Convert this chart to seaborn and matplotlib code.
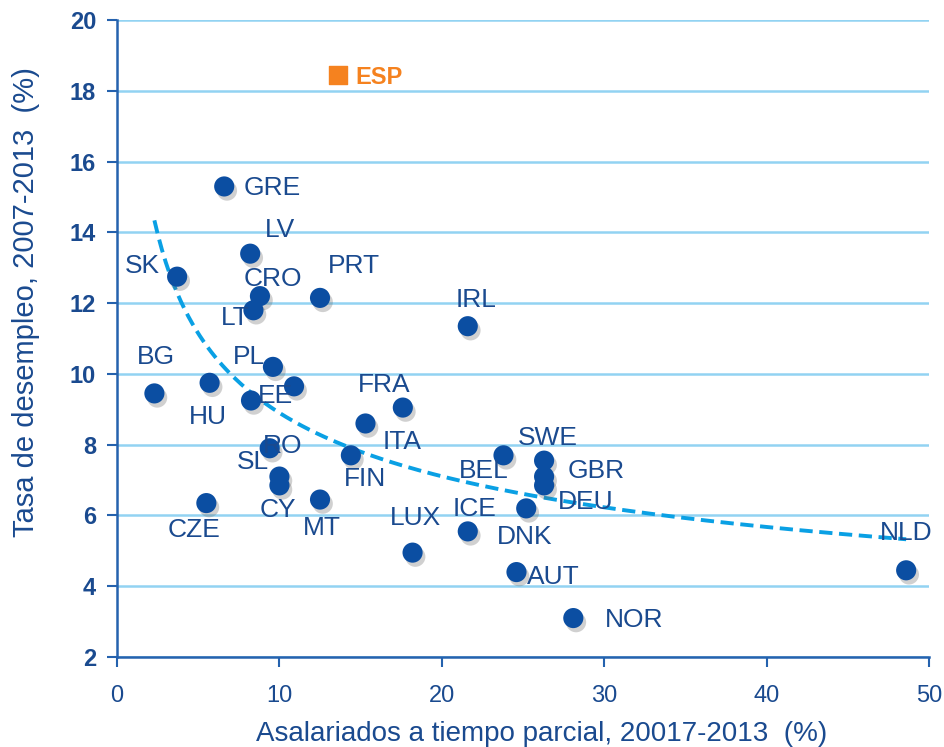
import matplotlib
matplotlib.use("Agg")
import matplotlib.pyplot as plt
import matplotlib.patheffects as pe
import seaborn as sns
import numpy as np
import pandas as pd

# data
paises = ["GRE", "LV", "SK", "CRO", "LT", "PRT", "IRL", "BG", "HU", "PL", "EE", "", "FRA",
          "ITA", "FIN", "RO", "SL", "CY", "CZE", "MT", "LUX", "ICE", "BEL", "SWE", "GBR",
          "DEU", "DNK", "AUT", "NOR", "NLD"]
parcial = [6.6, 8.2, 3.7, 8.8, 8.4, 12.5, 21.6, 2.3, 5.7, 9.6, 8.25, 10.9, 17.6,
           15.3, 14.4, 9.4, 10.0, 10.0, 5.5, 12.5, 18.2, 21.6, 23.8, 26.3, 26.3,
           26.3, 25.2, 24.6, 28.1, 48.6]
paro = [15.3, 13.4, 12.75, 12.2, 11.8, 12.15, 11.35, 9.45, 9.75, 10.2, 9.25, 9.65, 9.05,
        8.6, 7.7, 7.9, 7.1, 6.85, 6.35, 6.45, 4.95, 5.55, 7.7, 7.55, 7.1,
        6.85, 6.2, 4.4, 3.1, 4.45]
# label offsets in pixels (dx, dy, ha)
offs = [(19, -2, "left"), (15, 24, "left"), (-17, 11, "right"), (-16, 17, "left"),
        (-4, -8, "right"), (8, 32, "left"), (-12, 26, "left"), (2, 36, "center"),
        (-2, -34, "center"), (-8, 10, "right"), (7, 4, "left"), (0, 0, "left"),
        (-45, 23, "left"), (17, -19, "left"), (-7, -24, "left"), (-7, 2, "left"),
        (-10, 15, "right"), (-2, -25, "center"), (-12, -27, "center"), (2, -28, "center"),
        (3, 35, "center"), (7, 22, "center"), (-20, -16, "center"), (4, 23, "center"),
        (24, 6, "left"), (14, -17, "left"), (-2, -29, "center"), (10, -5, "left"),
        (32, -2, "left"), (0, 37, "center")]
esp = ("ESP", 13.6, 18.45)

df = pd.DataFrame({"pais": paises, "parcial": parcial, "paro": paro})

azul = "#0B4EA2"
texto = "#1A4A8F"
eje = "#2562AE"

plt.rcParams["font.family"] = ["Liberation Sans", "DejaVu Sans"]
fig = plt.figure(figsize=(9.44, 7.47), dpi=100)
ax = fig.add_axes([0.124, 0.1205, 0.86, 0.8525])

ax.set_xlim(0, 50)
ax.set_ylim(2, 20)
ax.set_yticks(range(2, 21, 2))
ax.set_xticks(range(0, 51, 10))
ax.grid(axis="y", color="#92D3F2", lw=1.8)
ax.set_axisbelow(True)

# power trend line fitted on all points (excel style)
fx = np.append(df.parcial.values, esp[1])
fy = np.append(df.paro.values, esp[2])
b, a = np.polyfit(np.log(fx), np.log(fy), 1)
xs = np.linspace(df.parcial.min(), df.parcial.max(), 200)
ax.plot(xs, np.exp(a) * xs ** b, ls=(0, (3.4, 1.7)), color="#0AA0E4", lw=2.8, zorder=2)

sns.scatterplot(data=df, x="parcial", y="paro", ax=ax, s=210, color=azul,
                edgecolor="none", zorder=3, legend=False)
ax.collections[-1].set_path_effects([pe.SimplePatchShadow(offset=(2, -3), shadow_rgbFace="#666666", alpha=0.3), pe.Normal()])

for p, x, y, (dx, dy, ha) in zip(paises, parcial, paro, offs):
    if p:
        ax.annotate(p, (x, y), xytext=(dx, dy), textcoords="offset pixels",
                    ha=ha, va="center", fontsize=19, color=texto, zorder=4)

ax.scatter([esp[1]], [esp[2]], marker="s", s=170, color="#F5821F", zorder=3)
ax.annotate(esp[0], (esp[1], esp[2]), xytext=(17, -2), textcoords="offset pixels",
            ha="left", va="center", fontsize=17, color="#F5821F", fontweight="bold")

for s in ["top", "right"]:
    ax.spines[s].set_visible(False)
for s in ["left", "bottom"]:
    ax.spines[s].set_color(eje)
    ax.spines[s].set_linewidth(1.8)
ax.tick_params(axis="both", colors=eje, width=1.5, length=7)
ax.tick_params(axis="y", labelsize=17, labelcolor=texto, pad=8)
ax.tick_params(axis="x", labelsize=17, labelcolor=texto, pad=13)
for t in ax.get_yticklabels():
    t.set_fontweight("bold")

ax.set_xlabel("Asalariados a tiempo parcial, 20017-2013  (%)", fontsize=20, color=texto)
ax.set_ylabel("Tasa de desempleo, 2007-2013  (%)", fontsize=21, color=texto)
ax.xaxis.set_label_coords(0.523, -0.1)
ax.yaxis.set_label_coords(-0.095, 0.557)

fig.savefig("out.png", dpi=100)
